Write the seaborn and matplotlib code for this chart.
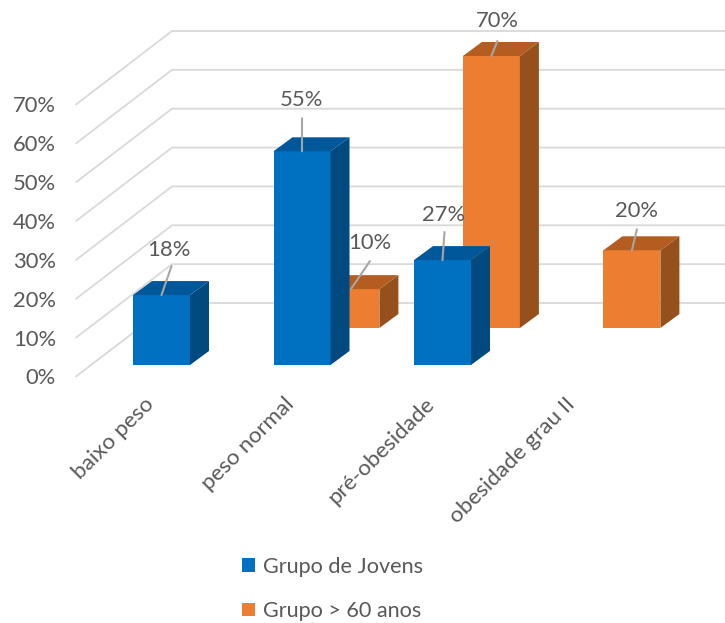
import numpy as np
import pandas as pd
import matplotlib
matplotlib.use("Agg")
import matplotlib.pyplot as plt
from matplotlib.patches import Polygon, Patch
from matplotlib.transforms import ScaledTranslation
import seaborn as sns

categories = ["baixo peso", "peso normal", "pré-obesidade", "obesidade grau II"]
jovens = [18, 55, 27, np.nan]
idosos = [np.nan, 10, 70, 20]
series_names = ["Grupo de Jovens", "Grupo > 60 anos"]
y_ticks = [0, 10, 20, 30, 40, 50, 60, 70]

W, H = 725, 623
sns.set_theme(style="white")
plt.rcParams["font.family"] = ["Lato", "DejaVu Sans"]
TXT = "#595959"
GRID = "#D9D9D9"
FS = 15.8
PX_PER_UNIT = 272 / 70

fig = plt.figure(figsize=(W / 100, H / 100), dpi=100, facecolor="white")


def make_axes(x0, x1, y_zero, z):
    ax = fig.add_axes([x0 / W, 1 - y_zero / H, (x1 - x0) / W, 272 / H])
    ax.set_zorder(z)
    ax.patch.set_visible(False)
    for s in ax.spines.values():
        s.set_visible(False)
    return ax


# back walls with gridlines
wall = make_axes(76, 725, 376.5, 0)
wall.set_xlim(76, 725)
wall.set_ylim(0, 70)
depth_x, depth_y = 96, 73.5 / PX_PER_UNIT
for t in y_ticks:
    wall.plot([76, 76 + depth_x, 725], [t, t + depth_y, t + depth_y], color=GRID,
              lw=1.3, clip_on=False, solid_joinstyle="miter")
wall.set_xticks([])
wall.set_yticks(y_ticks)
wall.set_yticklabels([f"{t}%" for t in y_ticks], color=TXT, fontsize=FS)
wall.tick_params(axis="y", length=0, pad=14.5)

# category step 140.5 px, bar 57 px
blue_ax = make_axes(91.25, 653.25, 365, 2)
orange_ax = make_axes(91.25 + 48.9, 653.25 + 48.9, 328, 1)

faces = [
    (blue_ax, jovens, "#0070C0", "#004A80", "#00589A"),
    (orange_ax, idosos, "#ED7D31", "#95501C", "#B55C20"),
]
offsets = {
    18: ((10, 29), (7, 45)), 55: ((0, 33), (-1, 51)), 10: ((19, 28), (19, 46)),
    27: ((2, 28), (1, 45)), 70: ((6, 15), (6, 35)), 20: ((5, 21), (5, 39)),
}
for ax, vals, front, side, top in faces:
    df = pd.DataFrame({"cat": categories, "val": vals})
    sns.barplot(data=df, x="cat", y="val", order=categories, color=front, saturation=1,
                width=57 / 140.5, ax=ax, linewidth=0)
    ax.set_xlim(-0.5, 3.5)
    ax.set_ylim(0, 70)
    ax.set_xlabel("")
    ax.set_ylabel("")
    ax.set_yticks([])
    dx, dy = 19 / 140.5, 14 / PX_PER_UNIT
    for bar in list(ax.patches):
        h = bar.get_height()
        if not np.isfinite(h) or h == 0:
            continue
        x0, x1 = bar.get_x(), bar.get_x() + bar.get_width()
        ax.add_patch(Polygon([(x1, 0), (x1 + dx, dy), (x1 + dx, h + dy), (x1, h)],
                             closed=True, fc=side, ec="none", clip_on=False))
        ax.add_patch(Polygon([(x0, h), (x0 + dx, h + dy), (x1 + dx, h + dy), (x1, h)],
                             closed=True, fc=top, ec="none", clip_on=False))
        (lx, ly), (tx, ty) = offsets[int(h)]
        cx = (x0 + x1) / 2
        ax.annotate("", xy=(cx, h), xytext=(lx * 0.72, ly * 0.72),
                    textcoords="offset points", annotation_clip=False,
                    arrowprops=dict(arrowstyle="-", color="#A6A6A6", lw=1.5,
                                    shrinkA=0, shrinkB=0))
        ax.annotate(f"{int(h)}%", xy=(cx, h), xytext=(tx * 0.72, ty * 0.72),
                    textcoords="offset points", ha="center", va="center",
                    color=TXT, fontsize=FS, annotation_clip=False)

orange_ax.set_xticks([])
blue_ax.set_xticks(range(len(categories)))
blue_ax.set_xticklabels(categories, rotation=45, ha="right", va="top",
                        rotation_mode="anchor", color=TXT, fontsize=FS + 0.4)
blue_ax.tick_params(axis="x", length=0, pad=21)
shift = ScaledTranslation(-18 / 100, 0, fig.dpi_scale_trans)
for lab in blue_ax.get_xticklabels():
    lab.set_transform(lab.get_transform() + shift)

handles = [Patch(fc="#0070C0", ec="none"), Patch(fc="#ED7D31", ec="none")]
leg = fig.legend(handles, series_names, loc="upper left",
                 bbox_to_anchor=(225 / W, 1 - 539.5 / H), frameon=False, fontsize=15.6,
                 labelcolor=TXT, handlelength=0.58, handleheight=0.58,
                 handletextpad=0.36, labelspacing=1.12, borderpad=0.3)

fig.savefig("out.png", dpi=100)
